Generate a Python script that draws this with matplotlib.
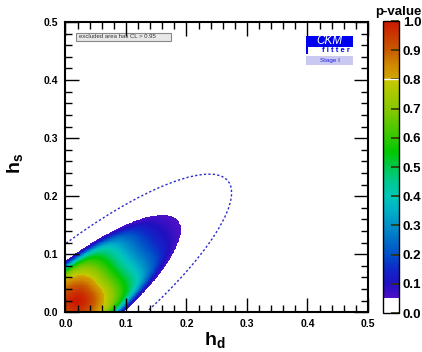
import numpy as np
import matplotlib
matplotlib.use("Agg")
import matplotlib.pyplot as plt
from matplotlib.colors import LinearSegmentedColormap
from matplotlib.patches import Ellipse, Rectangle
from matplotlib.ticker import MultipleLocator

plt.rcParams['font.family'] = ['Liberation Sans', 'DejaVu Sans']
plt.rcParams['font.weight'] = 'bold'
plt.rcParams['mathtext.fontset'] = 'custom'
plt.rcParams['mathtext.rm'] = 'Liberation Sans:bold'
plt.rcParams['mathtext.it'] = 'Liberation Sans:bold'
plt.rcParams['mathtext.bf'] = 'Liberation Sans:bold'

# ---- data ----
x_range = [0.0, 0.5]
y_range = [0.0, 0.5]
x_ticks = [0.0, 0.1, 0.2, 0.3, 0.4, 0.5]
y_ticks = [0.0, 0.1, 0.2, 0.3, 0.4, 0.5]
cbar_ticks = [0.0, 0.1, 0.2, 0.3, 0.4, 0.5, 0.6, 0.7, 0.8, 0.9, 1.0]

best_fit = (0.019, 0.018)          # (h_d, h_s) of p-value maximum
tilt_deg = 40.0                    # orientation of the allowed region
excl_semi_axes = (0.218, 0.066)    # half-axes of the CL=0.95 boundary
dashed_semi_axes = (0.325, 0.090)  # half-axes of the dashed contour
excl_cl = 0.05
core_power = 0.82                  # profile shape along the long axis
minor_anisotropy = 0.84            # profile shape across the long axis
edge_power = 5

# colour palette of the p-value scale
pal_pos = [0.0, 0.05, 0.0501, 0.10, 0.15, 0.20, 0.30, 0.35, 0.40, 0.45, 0.50,
           0.55, 0.60, 0.70, 0.7999, 0.80, 0.85, 0.90, 1.0]
pal_col = ['#ffffff', '#ffffff', '#5010c8', '#2010c0', '#1028c8', '#0050c8',
           '#0090c8', '#00b0c8', '#00c8b8', '#00c890', '#00c850', '#00c800',
           '#30c800', '#88c800', '#c8c800', '#d0a800', '#d08800', '#c85a00',
           '#cc1800']

# ---- p-value map ----
gx = np.linspace(x_range[0], x_range[1], 501)
gy = np.linspace(y_range[0], y_range[1], 501)
X, Y = np.meshgrid(gx, gy)
th = np.deg2rad(tilt_deg)
dx, dy = X - best_fit[0], Y - best_fit[1]
u = dx * np.cos(th) + dy * np.sin(th)
v = -dx * np.sin(th) + dy * np.cos(th)
s = u / excl_semi_axes[0]
w = v / excl_semi_axes[1]
t2 = s ** 2 + w ** 2
sin2 = np.where(t2 > 0, w ** 2 / np.maximum(t2, 1e-12), 0.0)
alpha = minor_anisotropy * sin2
h = (1 - alpha) * t2 ** core_power + alpha * t2 ** edge_power
P = excl_cl ** h

cmap = LinearSegmentedColormap.from_list('ckm', list(zip(pal_pos, pal_col)), N=1024)

fig = plt.figure(figsize=(4.22, 3.52), dpi=100)
ax = fig.add_axes([0.1552, 0.1128, 0.7168, 0.8247])
im = ax.imshow(P, origin='lower', extent=[x_range[0], x_range[1], y_range[0], y_range[1]],
               cmap=cmap, vmin=0, vmax=1, aspect='auto', interpolation='nearest')

ell = Ellipse(best_fit, 2 * dashed_semi_axes[0], 2 * dashed_semi_axes[1], angle=tilt_deg,
              fill=False, edgecolor='#2a2acc', linewidth=1.0, linestyle=(0, (1.6, 1.6)))
ax.add_patch(ell)

ax.set_xlim(*x_range)
ax.set_ylim(*y_range)
ax.set_xticks(x_ticks)
ax.set_yticks(y_ticks)
ax.set_xticklabels([f'{t:.1f}' for t in x_ticks])
ax.set_yticklabels([f'{t:.1f}' for t in y_ticks])
ax.xaxis.set_minor_locator(MultipleLocator(0.02))
ax.yaxis.set_minor_locator(MultipleLocator(0.02))
ax.tick_params(which='major', direction='in', top=True, right=True, length=10, width=1.0,
               labelsize=7.5, pad=5)
ax.tick_params(which='minor', direction='in', top=True, right=True, length=5, width=1.0)
for lab in ax.get_xticklabels() + ax.get_yticklabels():
    lab.set_fontweight('bold')
for sp in ax.spines.values():
    sp.set_linewidth(1.5)

fig.text(0.51, 0.035, r'$\mathrm{h_d}$', fontsize=14, ha='center', va='center')
fig.text(0.035, 0.535, r'$\mathrm{h_s}$', fontsize=14, ha='center', va='center', rotation=90)

# legend box
ax.add_patch(Rectangle((0.035, 0.935), 0.315, 0.027, transform=ax.transAxes,
                       facecolor='#e8e8e8', edgecolor='#888888', linewidth=0.8))
ax.text(0.045, 0.9485, 'excluded area has CL > 0.95', transform=ax.transAxes,
        fontsize=4.3, fontweight='normal', color='#333333', va='center', ha='left')

# CKMfitter logo
fig.patches.append(Rectangle((306 / 422, 1 - 47 / 352), 47 / 422, 11 / 352,
                             transform=fig.transFigure, facecolor='#0000f0', edgecolor='none'))
fig.patches.append(Rectangle((306 / 422, 1 - 54 / 352), 2 / 422, 7 / 352,
                             transform=fig.transFigure, facecolor='#0000f0', edgecolor='none'))
fig.patches.append(Rectangle((306 / 422, 1 - 65 / 352), 47 / 422, 9 / 352,
                             transform=fig.transFigure, facecolor='#c8c8f0', edgecolor='none'))
fig.text(329 / 422, 1 - 41.5 / 352, 'CKM', color='white', fontsize=8.5, fontstyle='italic',
         fontweight='normal', ha='center', va='center')
fig.text(336 / 422, 1 - 50.8 / 352, 'f i t t e r', color='#0000f0', fontsize=5.5,
         fontweight='bold', ha='center', va='center')
fig.text(329.5 / 422, 1 - 60.5 / 352, 'Stage I', color='#2020e0', fontsize=4.5,
         fontweight='normal', ha='center', va='center')

# colour bar
cax = fig.add_axes([383.3 / 422, 1 - 313 / 352, 15.4 / 422, 292 / 352])
cb = fig.colorbar(im, cax=cax, ticks=cbar_ticks)
cb.outline.set_linewidth(1.0)
cax.set_yticklabels([f'{t:.1f}' for t in cbar_ticks])
cax.tick_params(direction='in', length=6, width=1.2, color='#333300', labelsize=9.5, pad=3)
for lab in cax.get_yticklabels():
    lab.set_fontweight('bold')
cax.axhline(0.8, color='white', linewidth=1.0)
fig.text(398 / 422, 1 - 12 / 352, 'p-value', fontsize=9.5, fontweight='bold', ha='center',
         va='center')

fig.savefig('out.png', dpi=100)
